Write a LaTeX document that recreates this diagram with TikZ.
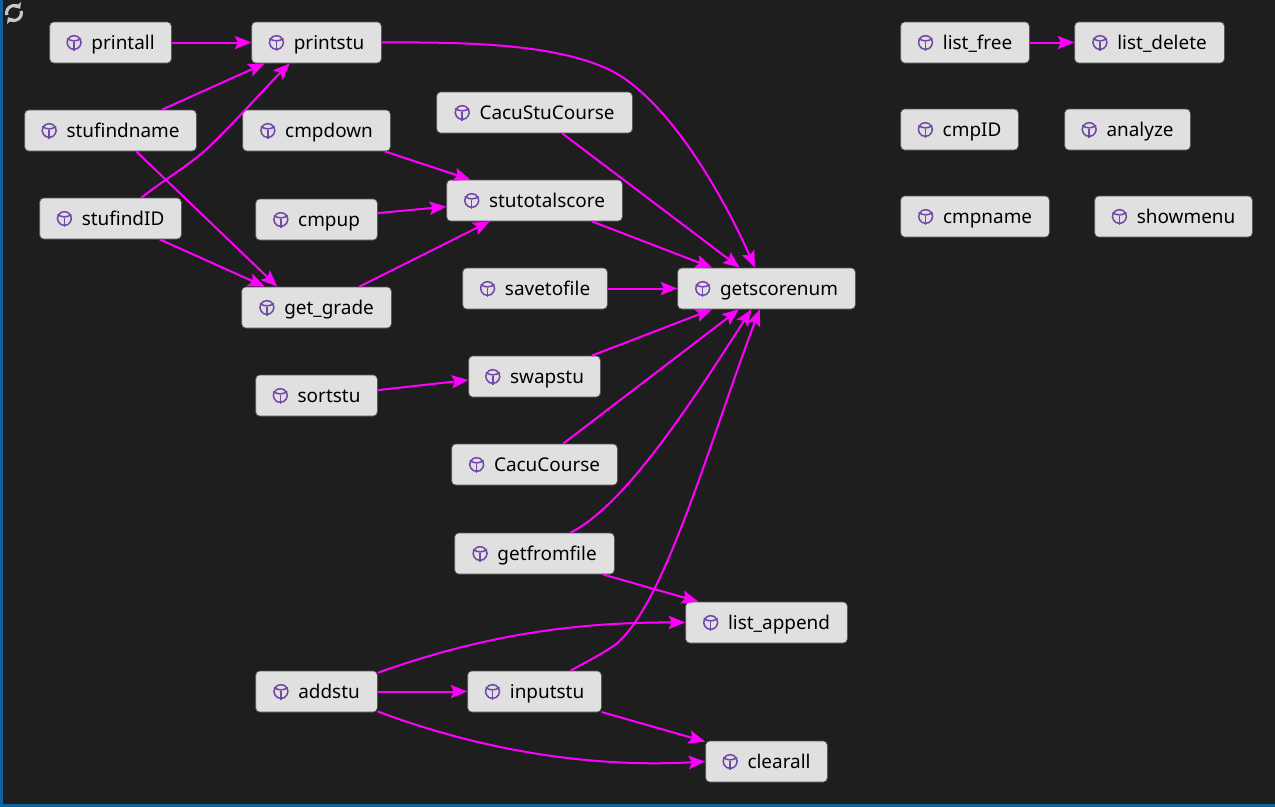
\documentclass[tikz,border=0pt]{standalone}
\usepackage{fontspec}
\setmainfont{Noto Sans}
\usetikzlibrary{arrows.meta}
\definecolor{canvas}{HTML}{1E1E1E}
\definecolor{framebar}{HTML}{0E639C}
\definecolor{boxfill}{HTML}{E0E0E0}
\definecolor{boxline}{HTML}{555555}
\definecolor{cubeline}{HTML}{7248A8}
\definecolor{depline}{HTML}{FF00FF}
\definecolor{syncicon}{HTML}{C8C8C8}
\newcommand{\cubeicon}{\tikz[baseline=-5.6pt,x=0.75pt,y=0.75pt,line width=1.15pt,draw=cubeline,line join=round]{
	\draw (0,8) -- (7,4) -- (7,-4) -- (0,-8) -- (-7,-4) -- (-7,4) -- cycle;
	\draw (-7,4) -- (0,0.5) -- (7,4);
	\draw (0,0.5) -- (0,-8);
}\hspace{7.2pt}}
\tikzset{%
	func/.style={
		draw=boxline,
		fill=boxfill,
		rounded corners=3pt,
		line width=0.5pt,
		minimum height=30.75pt,
		minimum width=#1*0.75pt+0.5pt,
		inner xsep=0pt,
		inner ysep=0pt,
		text height=13pt,
		text depth=1.8pt,
		font=\fontsize{14.2}{17}\selectfont,
		text=black
	},
	dep/.style={
		draw=depline,
		line width=1.5pt,
		-{Stealth[length=12.5pt,width=10pt,inset=2.4pt]}
	},
	syncarc/.style={
		draw=syncicon,
		line width=2.3pt,
		-{Stealth[length=3.8pt,width=6.6pt,inset=0.4pt]}
	},
}
\begin{document}
\begin{tikzpicture}[x=0.75pt,y=-0.75pt]
	\useasboundingbox (0,0) rectangle (1275,807);
	% window
	\fill[canvas] (0,0) rectangle (1275,807);
	\fill[framebar] (0,0) rectangle (3,807);
	\fill[framebar] (0,804) rectangle (1275,807);
	% refresh icon
	\draw[syncarc] (6.8,15) arc[start angle=165,end angle=325,radius=7.5];
	\draw[syncarc] (21.2,11) arc[start angle=-15,end angle=145,radius=7.5];

	% Nodes of the graph
	\node[func=121] (printall) at (110.5,42.5) {\cubeicon printall};
	\node[func=129] (printstu) at (316.5,42.5) {\cubeicon printstu};
	\node[func=171] (stufindname) at (110.5,130.5) {\cubeicon stufindname};
	\node[func=141] (stufindID) at (110.5,218.5) {\cubeicon stufindID};
	\node[func=147] (cmpdown) at (316.5,130.5) {\cubeicon cmpdown};
	\node[func=121] (cmpup) at (316.5,219.5) {\cubeicon cmpup};
	\node[func=149] (get_grade) at (316.5,307.5) {\cubeicon get\_grade};
	\node[func=121] (sortstu) at (316.5,395.5) {\cubeicon sortstu};
	\node[func=121] (addstu) at (316.5,691.5) {\cubeicon addstu};
	\node[func=195] (CacuStuCourse) at (534.5,112.5) {\cubeicon CacuStuCourse};
	\node[func=175] (stutotalscore) at (534.5,200.5) {\cubeicon stutotalscore};
	\node[func=144] (savetofile) at (535,288.5) {\cubeicon savetofile};
	\node[func=131] (swapstu) at (534.5,376.5) {\cubeicon swapstu};
	\node[func=165] (CacuCourse) at (534.5,464.5) {\cubeicon CacuCourse};
	\node[func=159] (getfromfile) at (534.5,553.5) {\cubeicon getfromfile};
	\node[func=133] (inputstu) at (534.5,691.5) {\cubeicon inputstu};
	\node[func=177] (getscorenum) at (766.5,288.5) {\cubeicon getscorenum};
	\node[func=161] (list_append) at (766.5,622.5) {\cubeicon list\_append};
	\node[func=121] (clearall) at (766.5,761.5) {\cubeicon clearall};
	\node[func=128] (list_free) at (965,42.5) {\cubeicon list\_free};
	\node[func=149] (list_delete) at (1149.5,42.5) {\cubeicon list\_delete};
	\node[func=117] (cmpID) at (959.5,129.5) {\cubeicon cmpID};
	\node[func=125] (analyze) at (1127.5,129.5) {\cubeicon analyze};
	\node[func=148] (cmpname) at (975,216.5) {\cubeicon cmpname};
	\node[func=157] (showmenu) at (1173.5,216.5) {\cubeicon showmenu};

	% Edges
	\draw[dep] (printall.east) -- (printstu.west);
	\draw[dep] (stufindname.22.5) -- (printstu.202.9);
	\draw[dep] (stufindID.34.8) .. controls (165,179) and (190,165) .. (210,146) .. controls (235,122) and (265,88) .. (printstu.218.8);
	\draw[dep] (stufindname.-39.9) -- (get_grade.152);
	\draw[dep] (stufindID.-23.8) -- (get_grade.158.3);
	\draw[dep] (printstu.east) .. controls (470,42) and (555,44) .. (610,70) .. controls (670,100) and (725,200) .. (getscorenum.119.3);
	\draw[dep] (CacuStuCourse.-37.2) -- (getscorenum.142.3);
	\draw[dep] (cmpdown.-17.4) -- (stutotalscore.162.4);
	\draw[dep] (cmpup.6.1) -- (stutotalscore.184.2);
	\draw[dep] (get_grade.26.8) -- (stutotalscore.205.8);
	\draw[dep] (stutotalscore.-20.3) -- (getscorenum.159);
	\draw[dep] (savetofile.east) -- (getscorenum.west);
	\draw[dep] (swapstu.20.3) -- (getscorenum.201);
	\draw[dep] (sortstu.5.2) -- (swapstu.183.9);
	\draw[dep] (CacuCourse.36.7) -- (getscorenum.217.7);
	\draw[dep] (getfromfile.30) .. controls (625,505) and (690,405) .. (getscorenum.234.7);
	\draw[dep] (getfromfile.-17.4) -- (list_append.163.6);
	\draw[dep] (addstu.17) .. controls (470,640) and (560,622) .. (list_append.west);
	\draw[dep] (addstu.east) -- (inputstu.west);
	\draw[dep] (addstu.-18.7) .. controls (480,750) and (590,768) .. (clearall.west);
	\draw[dep] (inputstu.30) .. controls (590,660) and (600,655) .. (615,645) .. controls (665,605) and (710,440) .. (getscorenum.252.4);
	\draw[dep] (inputstu.-17.4) -- (clearall.162.1);
	\draw[dep] (list_free.east) -- (list_delete.west);
\end{tikzpicture}
\end{document}
